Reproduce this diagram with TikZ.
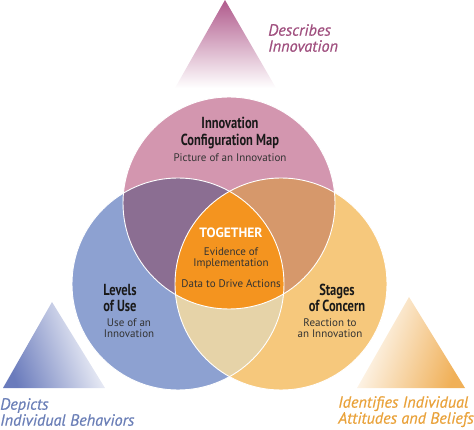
\documentclass[tikz,border=0pt]{standalone}
\usepackage{fontspec}
\setmainfont{PT Sans}
\newfontfamily\condb[FakeStretch=0.78]{PT Sans}
\newfontfamily\labfont[FakeBold=0.5]{PT Sans}
\definecolor{cpink}{HTML}{D396AF}
\definecolor{cblue}{HTML}{8DA1D1}
\definecolor{cyel}{HTML}{F6C87C}
\definecolor{cpurp}{HTML}{8B6E92}
\definecolor{cbrown}{HTML}{D6986B}
\definecolor{ctan}{HTML}{E6D3A8}
\definecolor{corange}{HTML}{F4941F}
\definecolor{tpink}{HTML}{B05A8C}
\definecolor{tblue}{HTML}{6A7BBC}
\definecolor{tyel}{HTML}{F0B058}
\definecolor{lpink}{HTML}{A0507F}
\definecolor{lblue}{HTML}{6B7FB7}
\definecolor{lyel}{HTML}{E9A23B}
\tikzset{
  title/.style={font=\condb\bfseries\fontsize{16}{16.5}\selectfont, text=black!90, align=center, inner sep=0pt},
  sub/.style={font=\fontsize{11}{11}\selectfont, text=black!80, align=center, inner sep=0pt},
  lab/.style={font=\labfont\itshape\fontsize{16.2}{16}\selectfont, align=left, inner sep=0pt, anchor=north west},
  ring/.style={draw=white, line width=0.9pt}
}
\begin{document}
\begin{tikzpicture}[x=1pt,y=-1pt]
\useasboundingbox (0,0) rectangle (474,430);
% corner triangles
\shade[top color=tpink, bottom color=white, middle color=tpink!50!white] (225,0) -- (175,88) -- (276,88) -- cycle;
\shade[left color=tblue, middle color=tblue!40!white, right color=white, shading angle=110] (3,388) -- (52,302) -- (105,388) -- cycle;
\shade[left color=tyel, middle color=tyel!40!white, right color=white, shading angle=250] (465,388) -- (409,297) -- (357,388) -- cycle;
% circle centres
\coordinate (ct) at (229,203);
\coordinate (cl) at (178,284);
\coordinate (cr) at (281,284);
\fill[cpink] (ct) circle (106pt);
\fill[cblue] (cl) circle (106pt);
\fill[cyel] (cr) circle (106pt);
\begin{scope}
  \clip (ct) circle (106pt);
  \fill[cpurp] (cl) circle (106pt);
  \fill[cbrown] (cr) circle (106pt);
\end{scope}
\begin{scope}
  \clip (cl) circle (106pt);
  \fill[ctan] (cr) circle (106pt);
  \clip (cr) circle (106pt);
  \fill[corange] (ct) circle (106pt);
\end{scope}
\draw[ring] (ct) circle (106pt);
\draw[ring] (cl) circle (106pt);
\draw[ring] (cr) circle (106pt);
% texts
\node[title] (icm) at (230,133) {Innovation\\Configuration Map};
\node[sub] (icms) at (230,158) {Picture of an Innovation};
\node[font=\bfseries\fontsize{13.5}{14}\selectfont, text=white, inner sep=0pt] (tog) at (231,233) {TOGETHER};
\node[sub] (evi) at (231,258) {Evidence of\\Implementation};
\node[sub] (data) at (231,284) {Data to Drive Actions};
\node[title] (lou) at (120,298) {Levels\\of Use};
\node[sub] (lous) at (129,328) {Use of an\\Innovation};
\node[title] (soc) at (337,298) {Stages\\of Concern};
\node[sub] (socs) at (330,328) {Reaction to\\an Innovation};
\node[lab, text=lpink] (desc) at (268,24) {Describes\\Innovation};
\node[lab, text=lblue] (dep) at (0,398) {Depicts\\Individual Behaviors};
\node[lab, text=lyel] (ide) at (338,396) {Identifies Individual\\Attitudes and Beliefs};
\end{tikzpicture}
\end{document}
